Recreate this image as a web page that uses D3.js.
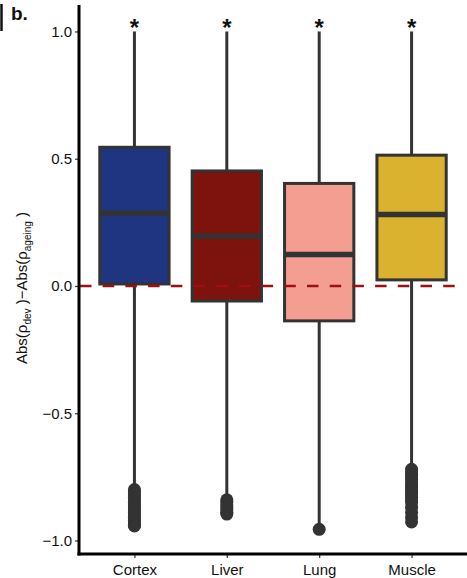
<!DOCTYPE html>
<html>
<head>
<meta charset="utf-8">
<script src="https://cdn.jsdelivr.net/npm/d3@7"></script>
<style>
  html, body { margin: 0; padding: 0; background: #fff; }
  svg { display: block; font-family: "Liberation Sans", Arial, Helvetica, sans-serif; }
</style>
</head>
<body>
<svg id="chart" width="467" height="578"></svg>
<script>
// Tissues and box-plot summaries
const tissues   = ["Cortex", "Liver", "Lung", "Muscle"];
const fills     = ["#1F3581", "#7E120D", "#F49E92", "#DBB22F"];
const q1        = [0.008, -0.059, -0.137, 0.024];
const medians   = [0.286, 0.196, 0.124, 0.281];
const q3        = [0.545, 0.452, 0.403, 0.514];
const whiskLow  = [-0.795, -0.825, -0.94, -0.71];
const whiskHigh = [1.0, 1.0, 1.0, 1.0];
const outliers  = [
  [-0.80, -0.81, -0.82, -0.83, -0.84, -0.85, -0.86, -0.87, -0.88, -0.89, -0.90, -0.91, -0.92, -0.93, -0.94, -0.943],
  [-0.84, -0.85, -0.86, -0.87, -0.88, -0.89, -0.896],
  [-0.956],
  [-0.72, -0.73, -0.74, -0.75, -0.76, -0.77, -0.78, -0.79, -0.80, -0.81, -0.82, -0.83, -0.84, -0.85, -0.87, -0.89, -0.91, -0.927]
];
const significance = ["*", "*", "*", "*"];
const yTicks = [1.0, 0.5, 0.0, -0.5, -1.0];

const svg = d3.select("#chart");
const plotLeft = 79, plotRight = 467, plotTop = 5, plotBottom = 554;

const x = d3.scalePoint().domain(tissues).range([plotLeft, plotRight]).padding(0.6);
const y = d3.scaleLinear().domain([-1.053, 1.104]).range([plotBottom, plotTop]);
const boxW = x.step() * 0.75;
const ink = "#333333";

// Panel letter
svg.append("line").attr("x1", 1.5).attr("x2", 1.5).attr("y1", 4).attr("y2", 31)
  .attr("stroke", "#111").attr("stroke-width", 2.5);
svg.append("text").attr("x", 11).attr("y", 20)
  .attr("font-size", 19).attr("font-weight", "bold").attr("fill", "#111").text("b.");

const g = svg.append("g");

tissues.forEach((t, i) => {
  const cx = x(t);
  // whiskers
  g.append("line").attr("x1", cx).attr("x2", cx)
    .attr("y1", y(whiskHigh[i])).attr("y2", y(q3[i]))
    .attr("stroke", ink).attr("stroke-width", 3);
  g.append("line").attr("x1", cx).attr("x2", cx)
    .attr("y1", y(q1[i])).attr("y2", y(whiskLow[i]))
    .attr("stroke", ink).attr("stroke-width", 3);
  // box
  g.append("rect").attr("x", cx - boxW / 2).attr("width", boxW)
    .attr("y", y(q3[i])).attr("height", y(q1[i]) - y(q3[i]))
    .attr("fill", fills[i]).attr("stroke", ink).attr("stroke-width", 3);
  // median
  g.append("line").attr("x1", cx - boxW / 2).attr("x2", cx + boxW / 2)
    .attr("y1", y(medians[i])).attr("y2", y(medians[i]))
    .attr("stroke", ink).attr("stroke-width", 5.5);
  // outliers
  g.selectAll(null).data(outliers[i]).enter().append("circle")
    .attr("cx", cx).attr("cy", d => y(d)).attr("r", 6.5).attr("fill", ink);
  // significance marker
  g.append("text").attr("x", cx).attr("y", y(whiskHigh[i]) + 5)
    .attr("text-anchor", "middle").attr("font-size", 24).attr("font-weight", "bold")
    .attr("fill", "#111").text(significance[i]);
});

// zero reference line
svg.append("line").attr("x1", plotLeft + 1).attr("x2", plotRight - 4)
  .attr("y1", y(0)).attr("y2", y(0))
  .attr("stroke", "#A10E12").attr("stroke-width", 2.5)
  .attr("stroke-dasharray", "11.5,11.2");

// axes
const yAxis = svg.append("g").attr("transform", `translate(${plotLeft},0)`)
  .call(d3.axisLeft(y).tickValues(yTicks).tickSize(4).tickPadding(3)
    .tickFormat(d => d3.format(".1f")(d).replace("-", "\u2212")));
const xAxis = svg.append("g").attr("transform", `translate(0,${plotBottom})`)
  .call(d3.axisBottom(x).tickSize(4).tickPadding(3));

[yAxis, xAxis].forEach(a => {
  a.select(".domain").remove();
  a.selectAll(".tick line").attr("stroke", ink).attr("stroke-width", 1.2);
  a.selectAll(".tick text").attr("font-size", 15).attr("fill", "#111")
    .attr("font-family", "Liberation Sans, Arial, sans-serif");
});
xAxis.selectAll(".tick text").attr("dy", "0.95em");

svg.append("line").attr("x1", plotLeft).attr("x2", plotLeft).attr("y1", plotTop).attr("y2", plotBottom + 1.5)
  .attr("stroke", "#000").attr("stroke-width", 3);
svg.append("line").attr("x1", plotLeft - 1.5).attr("x2", plotRight).attr("y1", plotBottom).attr("y2", plotBottom)
  .attr("stroke", "#000").attr("stroke-width", 3);

// y label
const yl = svg.append("text")
  .attr("transform", `translate(27,${y(0) + 2}) rotate(-90)`)
  .attr("text-anchor", "middle").attr("font-size", 15).attr("fill", "#111");
yl.append("tspan").text("Abs(\u03C1");
yl.append("tspan").attr("font-size", 10).attr("dy", 4).text("dev");
yl.append("tspan").attr("dy", -4).text(" )\u2212Abs(\u03C1");
yl.append("tspan").attr("font-size", 10).attr("dy", 4).text("ageing");
yl.append("tspan").attr("dy", -4).text(" )");
</script>
</body>
</html>
